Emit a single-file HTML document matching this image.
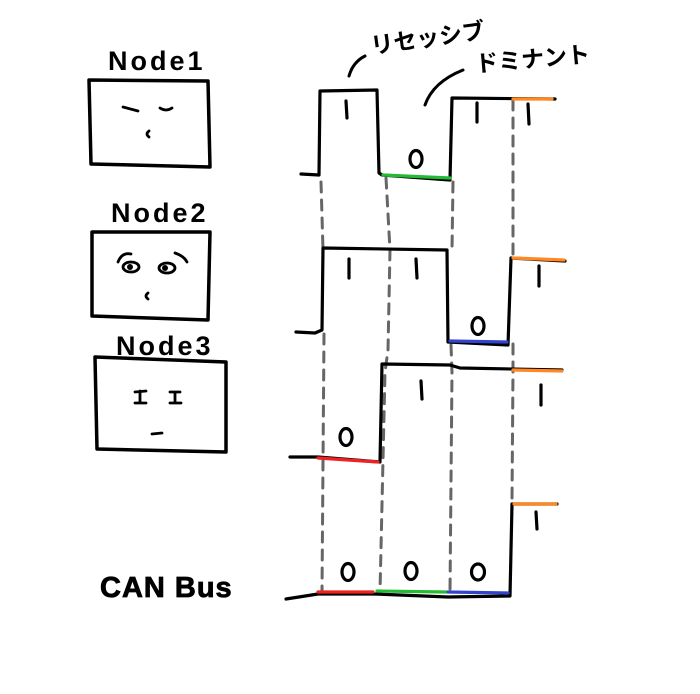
<!DOCTYPE html>
<html><head><meta charset="utf-8"><style>
html,body{margin:0;padding:0;background:#fff;}
svg{display:block;}
text{font-family:"Liberation Sans","Noto Sans CJK JP",sans-serif;fill:#000;font-weight:bold;}
</style></head><body>
<svg width="700" height="694" viewBox="0 0 700 694" xmlns="http://www.w3.org/2000/svg">
<g fill="none" stroke-linecap="round" stroke-linejoin="round">
<!-- dashed lines -->
<g stroke="#666" stroke-width="3" stroke-dasharray="10,8">
<path d="M321 182 L323 250 M324 334 L322 592"/>
<path d="M386 178 L390 250 L388 350 L385 372 L380 592"/>
<path d="M453 182 L452 250 M451 345 L452 372 L450 592"/>
<path d="M513 100 L513 256 M513 344 L513 370 L512 500"/>
</g>
<!-- boxes -->
<g stroke="#000" stroke-width="3.5">
<path d="M89 80 L208 81 L210 167 L91 164 Z"/>
<path d="M92 232 L210 232 L208 320 L92 316 Z"/>
<path d="M95 357 L226 362 L226 452 L97 449 Z"/>
</g>
<!-- faces -->
<g stroke="#000" stroke-width="2.8">
<path d="M123 107 L138 111"/><path d="M160 108 Q166 112 172 108"/>
<path d="M149 131 Q145 134 149 137"/>
<path d="M118 262 Q122 252 131 254"/><path d="M175 253 Q184 256 187 262"/>
<ellipse cx="131" cy="267" rx="8" ry="5"/><ellipse cx="167" cy="268" rx="8" ry="5"/>
<path d="M148 293 Q144 296 148 299"/>
<path d="M135 392 L146 391 M140 391 L140 403 M135 403 L146 403"/>
<path d="M170 392 L180 392 M175 392 L175 403 M170 403 L181 403"/>
<path d="M152 434 L162 433"/>
</g>
<g fill="#000" stroke="none"><circle cx="130" cy="267" r="3"/><circle cx="165" cy="268" r="3"/></g>
<!-- waveforms -->
<g stroke="#000" stroke-width="3.2">
<path d="M301 174 L319 175 L320 91 L377 90 L379 173 L382 175 L450 180 L452 98 L555 99"/>
<path d="M296 332 L315 333 L322 330 L323 248 L447 250 L448 342 L508 345 L511 258 L565 261"/>
<path d="M290 457 L318 457 L380 462 L382 364 L450 365 L460 368 L562 370"/>
<path d="M286 599 L318 594 L374 594 L448 597 L510 596 L512 504 L557 504"/>
</g>
<g stroke-width="3.2">
<path d="M383 175 L450 178" stroke="#22bb33"/>
<path d="M450 341 L507 342" stroke="#3344cc"/>
<path d="M318 458 L378 462" stroke="#ee2222"/>
<path d="M513 99 L552 99 M513 258 L564 260 M513 370 L562 371 M514 504 L556 504" stroke="#ff8822"/>
<path d="M318 592 L373 592" stroke="#ee2222"/>
<path d="M377 591 L446 592" stroke="#22bb33"/>
<path d="M448 592 L508 593" stroke="#3344cc"/>
</g>
<!-- bits -->
<g stroke="#000" stroke-width="3.2">
<path d="M346 101 L347 118"/>
<path d="M477 103 L477 122"/><path d="M528 104 L529 124"/>
<path d="M349 259 L349 278"/><path d="M416 259 L417 278"/>
<path d="M539 266 L539 286"/>
<path d="M421 381 L422 399"/><path d="M541 385 L541 405"/>
<path d="M536 512 L537 529"/>
<ellipse cx="416" cy="159" rx="6" ry="8.5"/>
<ellipse cx="478" cy="326" rx="6" ry="8.5"/>
<ellipse cx="346" cy="437" rx="6" ry="8.5"/>
<ellipse cx="348" cy="572" rx="6" ry="8.5"/>
<ellipse cx="411" cy="571" rx="6" ry="8.5"/>
<ellipse cx="478" cy="572" rx="6.5" ry="8"/>
</g>
<!-- callout curves -->
<g stroke="#000" stroke-width="3">
<path d="M349 76 Q353 62 365 56"/>
<path d="M425 105 Q433 82 463 70"/>
</g>
</g>
<text x="108" y="70" font-size="27" letter-spacing="3">Node1</text>
<text x="111" y="222" font-size="27" letter-spacing="3">Node2</text>
<text x="116" y="355" font-size="27" letter-spacing="3">Node3</text>
<text x="100" y="597" font-size="29" letter-spacing="1" font-weight="normal" stroke="#000" stroke-width="0.8">CAN Bus</text>
<text x="372" y="54" font-size="23" transform="rotate(-8 372 54)">リセッシブ</text>
<text x="476" y="72" font-size="23" transform="rotate(-5 476 72)">ドミナント</text>
</svg>
</body></html>
